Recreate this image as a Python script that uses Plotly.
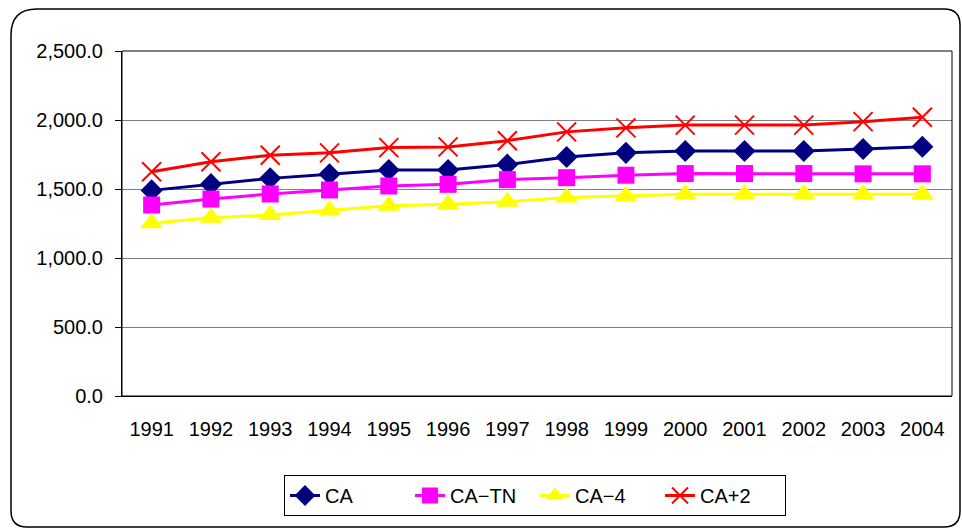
import plotly.graph_objects as go

years = ["1991", "1992", "1993", "1994", "1995", "1996", "1997",
         "1998", "1999", "2000", "2001", "2002", "2003", "2004"]
ca = [1490, 1535, 1577, 1607, 1638, 1638, 1677, 1732, 1762, 1775, 1775, 1775, 1790, 1806]
ca_tn = [1384, 1427, 1464, 1493, 1522, 1534, 1568, 1582, 1600, 1612, 1612, 1612, 1610, 1610]
ca_4 = [1252, 1292, 1311, 1346, 1379, 1390, 1408, 1438, 1449, 1462, 1462, 1462, 1462, 1462]
ca_p2 = [1625, 1698, 1745, 1762, 1800, 1805, 1850, 1914, 1943, 1963, 1963, 1963, 1988, 2020]

L, R, T, B = 122, 952, 51, 396
W, H = 962, 529
pw, ph = R - L, B - T

def px(x):
    return (x - L) / pw

def py(y):
    return (B - y) / ph

fig = go.Figure()
fig.add_trace(go.Scatter(x=years, y=ca, name="CA", mode="lines+markers",
                         line=dict(color="#000080", width=3),
                         marker=dict(symbol="diamond", size=17, color="#000080")))
fig.add_trace(go.Scatter(x=years, y=ca_tn, name="CA\u2212TN", mode="lines+markers",
                         line=dict(color="#FF00FF", width=3),
                         marker=dict(symbol="square", size=17, color="#FF00FF")))
fig.add_trace(go.Scatter(x=years, y=ca_4, name="CA\u22124", mode="lines+markers",
                         line=dict(color="#FFFF00", width=3),
                         marker=dict(symbol="triangle-up", size=20, color="#FFFF00")))
fig.add_trace(go.Scatter(x=years, y=ca_p2, name="CA+2", mode="lines+markers",
                         line=dict(color="#FF0000", width=3),
                         marker=dict(symbol="x-thin", size=19, color="#FF0000",
                                     line=dict(color="#FF0000", width=2))))

# rounded outer border (pixel corners converted to paper coords)
bx0, bx1, by0, by1 = 11, 960, 9, 527
r1, r2 = 26, 16
def P(x, y):
    return f"{px(x):.5f},{py(y):.5f}"
path = (f"M {P(bx0 + r1, by0)} L {P(bx1 - r2, by0)} Q {P(bx1, by0)} {P(bx1, by0 + r2)} "
        f"L {P(bx1, by1 - r2)} Q {P(bx1, by1)} {P(bx1 - r2, by1)} "
        f"L {P(bx0 + r2, by1)} Q {P(bx0, by1)} {P(bx0, by1 - r2)} "
        f"L {P(bx0, by0 + r1)} Q {P(bx0, by0)} {P(bx0 + r1, by0)} Z")
shapes = [dict(type="path", xref="paper", yref="paper", path=path,
               line=dict(color="black", width=1.5), layer="below")]
shapes.append(dict(type="rect", xref="paper", yref="paper", x0=0, x1=1, y0=0, y1=1,
                   line=dict(color="black", width=1)))

fig.update_layout(
    width=W, height=H,
    margin=dict(l=L, r=W - R, t=T, b=H - B),
    paper_bgcolor="white", plot_bgcolor="white",
    font=dict(family="Liberation Sans, Arial", size=20, color="black"),
    showlegend=True,
    legend=dict(orientation="h", x=px(535), xanchor="center", y=py(475), yanchor="top",
                bordercolor="black", borderwidth=1, font=dict(size=20),
                tracegroupgap=0, entrywidth=80, entrywidthmode="pixels"),
    shapes=shapes,
    xaxis=dict(type="category", showgrid=False, showline=True, linecolor="black",
               ticks="", tickfont=dict(size=20), ticklabelstandoff=15,
               range=[-0.5, 13.5]),
    yaxis=dict(range=[0, 2500], dtick=500, tickformat=",.1f", showgrid=True,
               gridcolor="#808080", gridwidth=1, showline=True, linecolor="black",
               ticks="outside", ticklen=6, tickcolor="black", tickfont=dict(size=20),
               ticklabelstandoff=8, zeroline=False),
)

fig.write_html("out.html", config={"displayModeBar": False},
               post_script="document.body.style.margin='0';")
